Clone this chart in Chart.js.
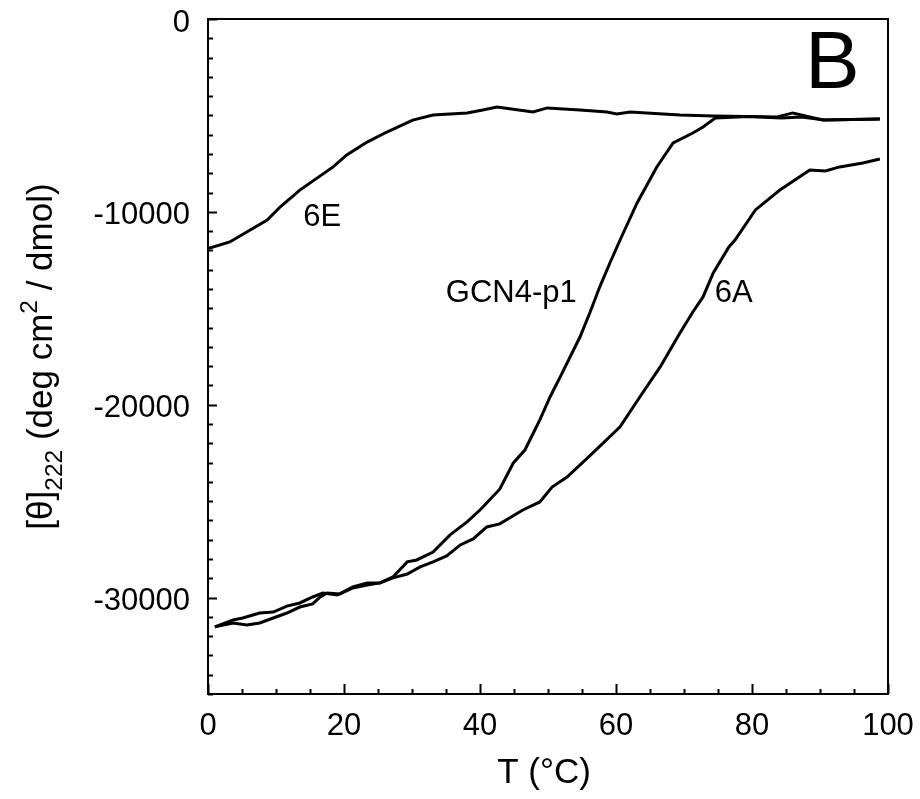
<!DOCTYPE html>
<html>
<head>
<meta charset="utf-8">
<title>CD thermal melts at 222 nm</title>
<script src="https://cdn.jsdelivr.net/npm/chart.js@4.4.1/dist/chart.umd.min.js"></script>
<style>
  html, body { margin: 0; padding: 0; background: #fff; }
  #wrap { width: 920px; height: 799px; position: relative; }
</style>
</head>
<body>
<div id="wrap"><canvas id="chart"></canvas></div>
<script>
// Temperature (°C) and mean residue ellipticity at 222 nm for each peptide
const temp6E  = [0, 3.2, 8.7, 10.6, 13.5, 18.4, 20.4, 23.4, 26.3, 30.1, 33.1, 38.1, 40.4, 42.5, 47.8, 49.9, 54.7, 58.7, 60.1, 62.1, 69.4, 74.3, 79.3, 83.7, 86.0, 90.4, 98.8];
const theta6E = [-11900, -11560, -10420, -9750, -8870, -7670, -7050, -6380, -5860, -5240, -4980, -4870, -4720, -4560, -4820, -4610, -4720, -4820, -4930, -4820, -4980, -5030, -5060, -5080, -4870, -5240, -5190];

const tempGCN4  = [1.0, 3.7, 5.1, 7.6, 9.6, 11.6, 13.5, 15.4, 16.9, 19.0, 21.3, 23.4, 25.3, 27.2, 29.3, 30.7, 33.1, 35.6, 38.1, 40.0, 42.9, 44.9, 46.6, 48.8, 50.3, 51.8, 54.7, 56.2, 57.6, 59.1, 60.6, 63.1, 66.0, 68.4, 71.3, 72.8, 74.6, 79.5, 84.3, 87.3, 90.7, 98.8];
const thetaGCN4 = [-31520, -31160, -31060, -30800, -30750, -30440, -30280, -29970, -29760, -29870, -29450, -29240, -29240, -28930, -28150, -28050, -27640, -26750, -26080, -25460, -24380, -23020, -22350, -20790, -19600, -18560, -16490, -15190, -13900, -12650, -11460, -9540, -7670, -6430, -5910, -5600, -5130, -5060, -5130, -5080, -5240, -5190];

const temp6A  = [1.0, 3.7, 5.7, 7.6, 9.6, 11.6, 13.5, 15.4, 16.5, 17.5, 19.4, 21.3, 23.4, 25.3, 27.2, 29.3, 31.2, 33.1, 35.1, 37.1, 39.0, 41.0, 42.9, 46.3, 48.8, 50.6, 52.8, 56.6, 60.6, 63.5, 66.5, 69.4, 71.3, 72.8, 74.3, 76.6, 77.5, 80.5, 84.1, 88.5, 90.8, 92.9, 96.3, 98.8];
const theta6A = [-31520, -31320, -31420, -31320, -31060, -30800, -30490, -30330, -29970, -29760, -29810, -29500, -29350, -29240, -28980, -28780, -28410, -28150, -27840, -27270, -26960, -26340, -26180, -25460, -25040, -24270, -23750, -22500, -21150, -19600, -18040, -16280, -15190, -14410, -13170, -11820, -11460, -9900, -8870, -7830, -7880, -7670, -7470, -7260];

// Axis tick labels
const xTickValues = [0, 20, 40, 60, 80, 100];
const yTickValues = [0, -10000, -20000, -30000];

// Curve names written next to the curves, and the panel letter
const curveLabels = [
  { text: '6E', t: 16.8, v: -10270 },
  { text: 'GCN4-p1', t: 44.6, v: -14230 },
  { text: '6A', t: 77.3, v: -14230 }
];
const panelLetter = { text: 'B', t: 91.8, v: -2385 };

const FONT = '"Liberation Sans", Arial, Helvetica, sans-serif';

function toPoints(xs, ys) {
  return xs.map((x, i) => ({ x: x, y: ys[i] }));
}

function curve(xs, ys) {
  return {
    data: toPoints(xs, ys),
    showLine: true,
    borderColor: '#000',
    borderWidth: 3,
    pointRadius: 0,
    tension: 0,
    fill: false
  };
}

// Box frame, inward tick marks, axis titles and in-plot labels
const framePlugin = {
  id: 'framePlugin',
  afterDatasetsDraw(chart) {
    const { ctx, chartArea: a, scales } = chart;
    const x = scales.x, y = scales.y;
    ctx.save();
    ctx.strokeStyle = '#000';
    ctx.lineWidth = 2;
    ctx.strokeRect(a.left, a.top, a.right - a.left, a.bottom - a.top);

    ctx.beginPath();
    for (let t = 0; t <= 100; t += 5) {
      const px = Math.round(x.getPixelForValue(t)) + 0.5;
      const len = t % 20 === 0 ? 10 : 5;
      ctx.moveTo(px, a.bottom);
      ctx.lineTo(px, a.bottom - len);
    }
    for (let v = 0; v >= -35000; v -= 1000) {
      const py = Math.round(y.getPixelForValue(v)) + 0.5;
      const len = v % 10000 === 0 ? 9 : 5;
      ctx.moveTo(a.left, py);
      ctx.lineTo(a.left + len, py);
    }
    ctx.stroke();

    ctx.fillStyle = '#000';
    ctx.textAlign = 'center';
    ctx.textBaseline = 'middle';
    ctx.font = '31px ' + FONT;
    curveLabels.forEach(l => {
      ctx.fillText(l.text, x.getPixelForValue(l.t), y.getPixelForValue(l.v));
    });
    ctx.font = '82px ' + FONT;
    ctx.fillText(panelLetter.text, x.getPixelForValue(panelLetter.t), y.getPixelForValue(panelLetter.v));

    // x axis title
    ctx.font = '35px ' + FONT;
    ctx.textBaseline = 'alphabetic';
    ctx.fillText('T (°C)', (a.left + a.right) / 2 - 4, 783);

    // y axis title with subscript and superscript
    const base = 35;
    const parts = [
      { s: '[θ]', k: 1, dy: 0 },
      { s: '222', k: 0.7, dy: 0.28 },
      { s: ' (deg cm', k: 1, dy: 0 },
      { s: '2', k: 0.7, dy: -0.42 },
      { s: ' / dmol)', k: 1, dy: 0 }
    ];
    let total = 0;
    parts.forEach(p => {
      ctx.font = (base * p.k) + 'px ' + FONT;
      p.w = ctx.measureText(p.s).width;
      total += p.w;
    });
    ctx.translate(52, (a.top + a.bottom) / 2);
    ctx.rotate(-Math.PI / 2);
    ctx.textAlign = 'left';
    let cx = -total / 2;
    parts.forEach(p => {
      ctx.font = (base * p.k) + 'px ' + FONT;
      ctx.fillText(p.s, cx, p.dy * base);
      cx += p.w;
    });
    ctx.restore();
  }
};

new Chart(document.getElementById('chart'), {
  type: 'scatter',
  data: {
    datasets: [
      curve(temp6E, theta6E),
      curve(tempGCN4, thetaGCN4),
      curve(temp6A, theta6A)
    ]
  },
  options: {
    responsive: true,
    maintainAspectRatio: false,
    animation: false,
    devicePixelRatio: 1,
    layout: { padding: { top: 19, right: 32, left: 0, bottom: 0 } },
    plugins: {
      legend: { display: false },
      tooltip: { enabled: false }
    },
    scales: {
      x: {
        type: 'linear',
        min: 0,
        max: 100,
        grid: { display: false },
        border: { display: false },
        afterFit: s => { s.height = 105; s.paddingLeft = 0; s.paddingRight = 0; },
        afterBuildTicks: s => { s.ticks = xTickValues.map(v => ({ value: v })); },
        ticks: {
          color: '#000',
          padding: 6,
          maxRotation: 0,
          font: { family: FONT, size: 31 },
          callback: v => String(v)
        }
      },
      y: {
        type: 'linear',
        min: -35000,
        max: 0,
        grid: { display: false },
        border: { display: false },
        afterFit: s => { s.width = 208; s.paddingTop = 0; s.paddingBottom = 0; },
        afterBuildTicks: s => { s.ticks = yTickValues.map(v => ({ value: v })); },
        ticks: {
          color: '#000',
          padding: 10,
          labelOffset: 4,
          font: { family: FONT, size: 31 },
          callback: v => String(v)
        }
      }
    }
  },
  plugins: [framePlugin]
});
</script>
</body>
</html>
